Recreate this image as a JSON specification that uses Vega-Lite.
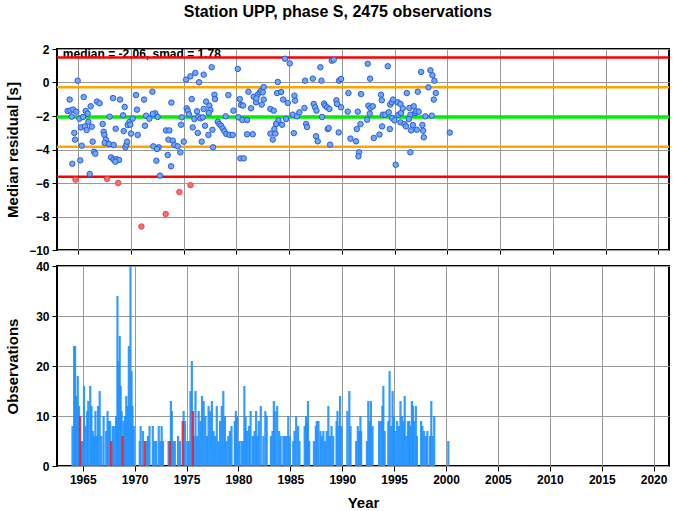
{
  "$schema": "https://vega.github.io/schema/vega-lite/v6.json",
  "padding": {"left": 4, "top": 4, "right": 4, "bottom": 0},
  "title": {"text": "Station UPP, phase S, 2475 observations", "anchor": "middle", "fontSize": 16, "fontWeight": "bold", "font": "Liberation Sans", "color": "#000", "offset": 22},
  "spacing": 16,
  "bounds": "flush",
  "config": {
    "font": "Liberation Sans",
    "view": {"stroke": "#000", "strokeWidth": 2},
    "axis": {"domain": false, "tickColor": "#000", "tickSize": 5, "tickWidth": 1, "gridColor": "#999", "gridWidth": 1, "labelFont": "Liberation Sans", "labelFontWeight": "bold", "labelFontSize": 12, "labelColor": "#000", "labelPadding": 3, "labelOverlap": false, "titleFont": "Liberation Sans", "titleFontSize": 15, "titleFontWeight": "bold", "titleColor": "#000"}
  },
  "datasets": {
    "points": [
      {"year":1964.96,"res":0.11,"status":"ok"},{"year":1964.20,"res":-1.02,"status":"ok"},{"year":1965.53,"res":-0.87,"status":"ok"},{"year":1964.01,"res":-1.70,"status":"ok"},{"year":1964.26,"res":-1.68,"status":"ok"},{"year":1964.52,"res":-1.62,"status":"ok"},{"year":1964.39,"res":-2.04,"status":"ok"},{"year":1964.83,"res":-1.74,"status":"ok"},{"year":1965.12,"res":-2.16,"status":"ok"},{"year":1965.46,"res":-2.06,"status":"ok"},{"year":1965.72,"res":-1.70,"status":"ok"},{"year":1965.91,"res":-1.86,"status":"ok"},{"year":1966.19,"res":-1.42,"status":"ok"},{"year":1965.97,"res":-2.34,"status":"ok"},{"year":1965.27,"res":-2.68,"status":"ok"},{"year":1965.65,"res":-2.62,"status":"ok"},{"year":1965.81,"res":-2.84,"status":"ok"},{"year":1966.29,"res":-2.64,"status":"ok"},{"year":1964.64,"res":-3.01,"status":"ok"},{"year":1964.71,"res":-3.41,"status":"ok"},{"year":1965.34,"res":-3.77,"status":"ok"},{"year":1966.38,"res":-3.53,"status":"ok"},{"year":1964.45,"res":-4.85,"status":"ok"},{"year":1965.21,"res":-4.65,"status":"ok"},{"year":1966.10,"res":-5.46,"status":"ok"},{"year":1966.51,"res":-4.13,"status":"ok"},{"year":1966.63,"res":-4.25,"status":"ok"},{"year":1966.79,"res":-1.14,"status":"ok"},{"year":1967.04,"res":-1.24,"status":"ok"},{"year":1967.33,"res":-2.48,"status":"ok"},{"year":1967.42,"res":-2.94,"status":"ok"},{"year":1967.49,"res":-3.13,"status":"ok"},{"year":1967.64,"res":-3.41,"status":"ok"},{"year":1967.52,"res":-3.61,"status":"ok"},{"year":1967.93,"res":-3.67,"status":"ok"},{"year":1968.37,"res":-3.73,"status":"ok"},{"year":1967.99,"res":-2.04,"status":"ok"},{"year":1968.31,"res":-0.93,"status":"ok"},{"year":1968.56,"res":-2.76,"status":"ok"},{"year":1968.97,"res":-1.02,"status":"ok"},{"year":1969.41,"res":-1.46,"status":"ok"},{"year":1969.26,"res":-1.96,"status":"ok"},{"year":1969.32,"res":-2.90,"status":"ok"},{"year":1969.48,"res":-3.87,"status":"ok"},{"year":1969.57,"res":-3.71,"status":"ok"},{"year":1969.64,"res":-3.53,"status":"ok"},{"year":1969.70,"res":-2.54,"status":"ok"},{"year":1969.86,"res":-2.36,"status":"ok"},{"year":1970.01,"res":-3.05,"status":"ok"},{"year":1970.17,"res":-2.16,"status":"ok"},{"year":1970.49,"res":-0.75,"status":"ok"},{"year":1970.58,"res":-1.62,"status":"ok"},{"year":1970.65,"res":-3.13,"status":"ok"},{"year":1971.25,"res":-1.02,"status":"ok"},{"year":1971.34,"res":-2.58,"status":"ok"},{"year":1971.44,"res":-1.98,"status":"ok"},{"year":1971.75,"res":-2.16,"status":"ok"},{"year":1972.04,"res":-0.55,"status":"ok"},{"year":1972.32,"res":-1.84,"status":"ok"},{"year":1972.13,"res":-3.81,"status":"ok"},{"year":1972.64,"res":-3.87,"status":"ok"},{"year":1972.48,"res":-3.97,"status":"ok"},{"year":1972.42,"res":-4.67,"status":"ok"},{"year":1972.76,"res":-5.56,"status":"ok"},{"year":1968.12,"res":-4.47,"status":"ok"},{"year":1968.37,"res":-4.61,"status":"ok"},{"year":1968.62,"res":-4.57,"status":"ok"},{"year":1968.88,"res":-4.63,"status":"ok"},{"year":1968.53,"res":-4.73,"status":"ok"},{"year":1972.07,"res":-1.88,"status":"ok"},{"year":1972.54,"res":-2.06,"status":"ok"},{"year":1969.95,"res":-2.52,"status":"ok"},
      {"year":1973.84,"res":-1.20,"status":"ok"},{"year":1973.33,"res":-2.86,"status":"ok"},{"year":1973.65,"res":-2.86,"status":"ok"},{"year":1973.56,"res":-3.41,"status":"ok"},{"year":1973.97,"res":-3.47,"status":"ok"},{"year":1974.12,"res":-3.73,"status":"ok"},{"year":1974.44,"res":-3.81,"status":"ok"},{"year":1973.49,"res":-4.33,"status":"ok"},{"year":1973.81,"res":-5.00,"status":"ok"},{"year":1974.69,"res":-4.17,"status":"ok"},{"year":1975.01,"res":-3.53,"status":"ok"},{"year":1974.76,"res":-2.52,"status":"ok"},{"year":1974.82,"res":-2.08,"status":"ok"},{"year":1975.23,"res":0.17,"status":"ok"},{"year":1975.64,"res":0.37,"status":"ok"},{"year":1976.11,"res":0.57,"status":"ok"},{"year":1976.46,"res":0.01,"status":"ok"},{"year":1976.90,"res":0.47,"status":"ok"},{"year":1977.66,"res":0.91,"status":"ok"},{"year":1975.29,"res":-1.54,"status":"ok"},{"year":1975.39,"res":-1.68,"status":"ok"},{"year":1975.51,"res":-1.90,"status":"ok"},{"year":1975.77,"res":-0.99,"status":"ok"},{"year":1976.02,"res":-2.18,"status":"ok"},{"year":1976.27,"res":-1.72,"status":"ok"},{"year":1976.40,"res":-2.04,"status":"ok"},{"year":1975.86,"res":-2.68,"status":"ok"},{"year":1976.34,"res":-3.01,"status":"ok"},{"year":1976.71,"res":-3.53,"status":"ok"},{"year":1976.59,"res":-2.14,"status":"ok"},{"year":1976.81,"res":-2.08,"status":"ok"},{"year":1976.90,"res":-1.58,"status":"ok"},{"year":1977.13,"res":-1.14,"status":"ok"},{"year":1977.44,"res":-1.38,"status":"ok"},{"year":1977.54,"res":-1.64,"status":"ok"},{"year":1977.38,"res":-1.82,"status":"ok"},{"year":1977.03,"res":-2.58,"status":"ok"},{"year":1977.35,"res":-3.13,"status":"ok"},{"year":1977.73,"res":-2.82,"status":"ok"},{"year":1977.79,"res":-3.87,"status":"ok"},{"year":1977.92,"res":-0.73,"status":"ok"},{"year":1977.98,"res":-0.99,"status":"ok"},{"year":1978.23,"res":-2.34,"status":"ok"},{"year":1978.39,"res":-2.48,"status":"ok"},{"year":1978.55,"res":-2.58,"status":"ok"},{"year":1978.71,"res":-2.74,"status":"ok"},{"year":1978.86,"res":-2.90,"status":"ok"},{"year":1979.05,"res":-3.07,"status":"ok"},{"year":1979.34,"res":-3.13,"status":"ok"},{"year":1979.65,"res":-3.13,"status":"ok"},{"year":1978.99,"res":-2.02,"status":"ok"},{"year":1979.24,"res":-0.75,"status":"ok"},{"year":1979.72,"res":-1.68,"status":"ok"},{"year":1980.13,"res":0.81,"status":"ok"},{"year":1980.32,"res":-0.99,"status":"ok"},{"year":1980.44,"res":-1.34,"status":"ok"},{"year":1980.63,"res":-1.38,"status":"ok"},{"year":1980.19,"res":-2.08,"status":"ok"},{"year":1980.57,"res":-2.24,"status":"ok"},{"year":1981.01,"res":-2.24,"status":"ok"},{"year":1980.38,"res":-4.53,"status":"ok"},{"year":1980.70,"res":-4.53,"status":"ok"},{"year":1981.01,"res":-3.09,"status":"ok"},{"year":1981.55,"res":-3.09,"status":"ok"},{"year":1981.14,"res":-0.55,"status":"ok"},{"year":1981.39,"res":-1.54,"status":"ok"},{"year":1981.64,"res":-0.85,"status":"ok"},{"year":1981.86,"res":-1.18,"status":"ok"},{"year":1982.02,"res":-0.73,"status":"ok"},{"year":1982.21,"res":-0.59,"status":"ok"},{"year":1981.90,"res":-0.95,"status":"ok"},{"year":1982.34,"res":-0.49,"status":"ok"},
      {"year":1982.59,"res":-0.27,"status":"ok"},{"year":1982.50,"res":-0.59,"status":"ok"},{"year":1982.59,"res":-1.02,"status":"ok"},{"year":1982.40,"res":-1.32,"status":"ok"},{"year":1983.22,"res":-1.58,"status":"ok"},{"year":1983.54,"res":-1.68,"status":"ok"},{"year":1983.92,"res":0.03,"status":"ok"},{"year":1983.86,"res":-0.63,"status":"ok"},{"year":1984.24,"res":-0.57,"status":"ok"},{"year":1984.43,"res":-1.02,"status":"ok"},{"year":1984.87,"res":-1.22,"status":"ok"},{"year":1984.61,"res":1.42,"status":"ok"},{"year":1985.06,"res":1.14,"status":"ok"},{"year":1985.34,"res":-1.92,"status":"ok"},{"year":1985.75,"res":-2.02,"status":"ok"},{"year":1985.97,"res":-1.78,"status":"ok"},{"year":1986.45,"res":-1.52,"status":"ok"},{"year":1985.50,"res":-0.79,"status":"ok"},{"year":1985.56,"res":-1.08,"status":"ok"},{"year":1983.98,"res":-2.26,"status":"ok"},{"year":1983.76,"res":-2.48,"status":"ok"},{"year":1983.60,"res":-2.78,"status":"ok"},{"year":1983.22,"res":-3.05,"status":"ok"},{"year":1983.45,"res":-3.41,"status":"ok"},{"year":1983.70,"res":-3.05,"status":"ok"},{"year":1984.33,"res":-2.52,"status":"ok"},{"year":1984.71,"res":-2.18,"status":"ok"},{"year":1985.44,"res":-3.02,"status":"ok"},{"year":1986.61,"res":-2.48,"status":"ok"},{"year":1986.70,"res":-2.66,"status":"ok"},{"year":1986.51,"res":0.11,"status":"ok"},{"year":1987.24,"res":0.23,"status":"ok"},{"year":1987.96,"res":0.91,"status":"ok"},{"year":1988.06,"res":0.11,"status":"ok"},{"year":1989.04,"res":1.30,"status":"ok"},{"year":1989.23,"res":1.36,"status":"ok"},{"year":1989.73,"res":0.11,"status":"ok"},{"year":1989.92,"res":0.21,"status":"ok"},{"year":1987.33,"res":-1.28,"status":"ok"},{"year":1987.46,"res":-1.48,"status":"ok"},{"year":1987.59,"res":-1.68,"status":"ok"},{"year":1988.12,"res":-2.06,"status":"ok"},{"year":1987.55,"res":-3.21,"status":"ok"},{"year":1987.71,"res":-3.51,"status":"ok"},{"year":1988.31,"res":-1.26,"status":"ok"},{"year":1988.41,"res":-1.38,"status":"ok"},{"year":1988.60,"res":-1.48,"status":"ok"},{"year":1988.82,"res":-1.58,"status":"ok"},{"year":1988.66,"res":-2.78,"status":"ok"},{"year":1988.75,"res":-2.72,"status":"ok"},{"year":1988.88,"res":-3.71,"status":"ok"},{"year":1989.48,"res":-1.06,"status":"ok"},{"year":1989.54,"res":-1.28,"status":"ok"},{"year":1989.70,"res":-2.98,"status":"ok"},{"year":1989.92,"res":-1.48,"status":"ok"},{"year":1990.62,"res":-0.63,"status":"ok"},{"year":1990.55,"res":-1.74,"status":"ok"},{"year":1990.81,"res":-3.35,"status":"ok"},{"year":1991.34,"res":-3.51,"status":"ok"},{"year":1991.50,"res":-1.74,"status":"ok"},{"year":1991.76,"res":-2.48,"status":"ok"},{"year":1991.41,"res":-2.78,"status":"ok"},{"year":1991.63,"res":-4.17,"status":"ok"},{"year":1991.57,"res":-4.41,"status":"ok"},{"year":1991.82,"res":-0.69,"status":"ok"},{"year":1992.45,"res":1.12,"status":"ok"},{"year":1992.67,"res":0.23,"status":"ok"},{"year":1992.51,"res":-1.38,"status":"ok"},{"year":1992.70,"res":-1.52,"status":"ok"},{"year":1992.93,"res":-1.42,"status":"ok"},{"year":1992.64,"res":-1.86,"status":"ok"},{"year":1992.39,"res":-2.22,"status":"ok"},{"year":1993.02,"res":-3.31,"status":"ok"},{"year":1993.56,"res":-3.11,"status":"ok"},{"year":1993.71,"res":-0.73,"status":"ok"},{"year":1993.78,"res":-1.06,"status":"ok"},{"year":1993.87,"res":-1.92,"status":"ok"},{"year":1994.10,"res":-1.92,"status":"ok"},{"year":1993.81,"res":-2.62,"status":"ok"},{"year":1994.35,"res":0.97,"status":"ok"},{"year":1994.54,"res":-2.78,"status":"ok"},{"year":1994.44,"res":-1.78,"status":"ok"},{"year":1994.57,"res":-1.32,"status":"ok"},{"year":1994.73,"res":-1.18,"status":"ok"},{"year":1994.85,"res":-1.02,"status":"ok"},{"year":1994.76,"res":-2.12,"status":"ok"},{"year":1994.98,"res":-2.26,"status":"ok"},{"year":1995.10,"res":-4.91,"status":"ok"},{"year":1995.29,"res":-1.18,"status":"ok"},{"year":1995.55,"res":-1.28,"status":"ok"},{"year":1995.36,"res":-1.92,"status":"ok"},{"year":1995.61,"res":-1.82,"status":"ok"},{"year":1995.77,"res":-1.54,"status":"ok"},{"year":1995.55,"res":-2.38,"status":"ok"},{"year":1995.93,"res":-2.48,"status":"ok"},{"year":1996.15,"res":-0.63,"status":"ok"},{"year":1996.08,"res":-2.62,"status":"ok"},{"year":1996.40,"res":-1.52,"status":"ok"},{"year":1996.49,"res":-1.92,"status":"ok"},{"year":1996.34,"res":-2.18,"status":"ok"},{"year":1996.81,"res":-1.42,"status":"ok"},{"year":1996.94,"res":-1.82,"status":"ok"},{"year":1997.03,"res":-1.72,"status":"ok"},{"year":1997.28,"res":-1.74,"status":"ok"},{"year":1996.56,"res":-2.86,"status":"ok"},{"year":1996.72,"res":-2.54,"status":"ok"},{"year":1997.10,"res":-2.82,"status":"ok"},{"year":1997.63,"res":-2.54,"status":"ok"},{"year":1997.76,"res":-3.27,"status":"ok"},{"year":1997.70,"res":-2.88,"status":"ok"},{"year":1996.49,"res":-4.17,"status":"ok"},{"year":1997.19,"res":-0.55,"status":"ok"},{"year":1997.51,"res":0.63,"status":"ok"},{"year":1997.92,"res":-2.02,"status":"ok"},{"year":1998.20,"res":-0.29,"status":"ok"},{"year":1998.39,"res":0.73,"status":"ok"},{"year":1998.58,"res":0.43,"status":"ok"},{"year":1998.77,"res":0.11,"status":"ok"},{"year":1998.90,"res":-0.63,"status":"ok"},{"year":1998.71,"res":-1.02,"status":"ok"},{"year":1998.52,"res":-1.98,"status":"ok"},{"year":2000.22,"res":-2.99,"status":"ok"},
      {"year":1964.75,"res":-5.80,"status":"outlier"},{"year":1967.75,"res":-5.76,"status":"outlier"},{"year":1968.80,"res":-6.00,"status":"outlier"},{"year":1971.00,"res":-8.60,"status":"outlier"},{"year":1973.30,"res":-7.85,"status":"outlier"},{"year":1974.60,"res":-6.54,"status":"outlier"},{"year":1975.65,"res":-6.13,"status":"outlier"}
    ],
    "bars": [
      {"year":1964.01,"count":8,"status":"ok"},{"year":1964.17,"count":24,"status":"ok"},{"year":1964.26,"count":24,"status":"ok"},{"year":1964.39,"count":14,"status":"ok"},{"year":1964.52,"count":18,"status":"ok"},{"year":1964.64,"count":12,"status":"ok"},{"year":1964.83,"count":5,"status":"ok"},{"year":1964.96,"count":5,"status":"ok"},{"year":1965.12,"count":16,"status":"ok"},{"year":1965.27,"count":8,"status":"ok"},{"year":1965.43,"count":11,"status":"ok"},{"year":1965.53,"count":13,"status":"ok"},{"year":1965.72,"count":16,"status":"ok"},{"year":1965.84,"count":12,"status":"ok"},{"year":1965.97,"count":7,"status":"ok"},{"year":1966.10,"count":6,"status":"ok"},{"year":1966.22,"count":11,"status":"ok"},{"year":1966.35,"count":6,"status":"ok"},{"year":1966.47,"count":12,"status":"ok"},{"year":1966.63,"count":15,"status":"ok"},{"year":1966.79,"count":6,"status":"ok"},{"year":1967.01,"count":10,"status":"ok"},{"year":1967.26,"count":7,"status":"ok"},{"year":1967.39,"count":11,"status":"ok"},{"year":1967.49,"count":9,"status":"ok"},{"year":1967.64,"count":9,"status":"ok"},{"year":1967.90,"count":8,"status":"ok"},{"year":1968.05,"count":8,"status":"ok"},{"year":1968.21,"count":10,"status":"ok"},{"year":1968.34,"count":34,"status":"ok"},{"year":1968.43,"count":21,"status":"ok"},{"year":1968.56,"count":26,"status":"ok"},{"year":1968.65,"count":16,"status":"ok"},{"year":1968.75,"count":11,"status":"ok"},{"year":1968.94,"count":9,"status":"ok"},{"year":1969.07,"count":10,"status":"ok"},{"year":1969.19,"count":14,"status":"ok"},{"year":1969.32,"count":12,"status":"ok"},{"year":1969.44,"count":24,"status":"ok"},{"year":1969.60,"count":40,"status":"ok"},{"year":1969.70,"count":19,"status":"ok"},{"year":1969.79,"count":12,"status":"ok"},{"year":1969.92,"count":8,"status":"ok"},{"year":1970.49,"count":5,"status":"ok"},{"year":1970.58,"count":8,"status":"ok"},{"year":1970.80,"count":7,"status":"ok"},{"year":1971.15,"count":5,"status":"ok"},{"year":1971.28,"count":6,"status":"ok"},{"year":1971.43,"count":8,"status":"ok"},{"year":1971.75,"count":8,"status":"ok"},{"year":1971.91,"count":5,"status":"ok"},{"year":1972.07,"count":5,"status":"ok"},{"year":1972.32,"count":8,"status":"ok"},{"year":1972.48,"count":5,"status":"ok"},{"year":1972.60,"count":8,"status":"ok"},{"year":1972.73,"count":5,"status":"ok"},{"year":1973.27,"count":5,"status":"ok"},{"year":1973.49,"count":13,"status":"ok"},{"year":1973.58,"count":11,"status":"ok"},{"year":1973.71,"count":5,"status":"ok"},{"year":1973.87,"count":5,"status":"ok"},{"year":1974.18,"count":6,"status":"ok"},{"year":1974.37,"count":5,"status":"ok"},{"year":1974.72,"count":11,"status":"ok"},{"year":1974.85,"count":9,"status":"ok"},{"year":1975.07,"count":5,"status":"ok"},{"year":1975.23,"count":5,"status":"ok"},{"year":1975.38,"count":15,"status":"ok"},{"year":1975.51,"count":21,"status":"ok"},{"year":1975.70,"count":6,"status":"ok"},{"year":1975.86,"count":15,"status":"ok"},{"year":1976.02,"count":6,"status":"ok"},{"year":1976.17,"count":11,"status":"ok"},{"year":1976.33,"count":9,"status":"ok"},{"year":1976.49,"count":14,"status":"ok"},{"year":1976.65,"count":13,"status":"ok"},{"year":1976.81,"count":10,"status":"ok"},{"year":1976.97,"count":6,"status":"ok"},{"year":1977.12,"count":12,"status":"ok"},{"year":1977.28,"count":11,"status":"ok"},{"year":1977.44,"count":13,"status":"ok"},{"year":1977.60,"count":7,"status":"ok"},{"year":1977.75,"count":6,"status":"ok"},{"year":1977.91,"count":12,"status":"ok"},{"year":1978.07,"count":5,"status":"ok"},{"year":1978.23,"count":9,"status":"ok"},{"year":1978.39,"count":12,"status":"ok"},{"year":1978.54,"count":15,"status":"ok"},{"year":1978.70,"count":10,"status":"ok"},{"year":1978.86,"count":5,"status":"ok"},{"year":1979.02,"count":6,"status":"ok"},{"year":1979.18,"count":7,"status":"ok"},{"year":1979.33,"count":8,"status":"ok"},
      {"year":1979.65,"count":9,"status":"ok"},{"year":1979.75,"count":11,"status":"ok"},{"year":1979.87,"count":10,"status":"ok"},{"year":1980.06,"count":5,"status":"ok"},{"year":1980.28,"count":5,"status":"ok"},{"year":1980.44,"count":5,"status":"ok"},{"year":1980.57,"count":16,"status":"ok"},{"year":1980.69,"count":10,"status":"ok"},{"year":1980.82,"count":7,"status":"ok"},{"year":1981.01,"count":8,"status":"ok"},{"year":1981.17,"count":11,"status":"ok"},{"year":1981.39,"count":6,"status":"ok"},{"year":1981.55,"count":7,"status":"ok"},{"year":1981.70,"count":11,"status":"ok"},{"year":1981.83,"count":6,"status":"ok"},{"year":1981.96,"count":9,"status":"ok"},{"year":1982.15,"count":12,"status":"ok"},{"year":1982.40,"count":6,"status":"ok"},{"year":1982.59,"count":11,"status":"ok"},{"year":1982.72,"count":10,"status":"ok"},{"year":1983.13,"count":6,"status":"ok"},{"year":1983.28,"count":7,"status":"ok"},{"year":1983.41,"count":13,"status":"ok"},{"year":1983.54,"count":11,"status":"ok"},{"year":1983.73,"count":12,"status":"ok"},{"year":1983.92,"count":7,"status":"ok"},{"year":1984.07,"count":6,"status":"ok"},{"year":1984.33,"count":6,"status":"ok"},{"year":1984.49,"count":6,"status":"ok"},{"year":1984.64,"count":6,"status":"ok"},{"year":1984.80,"count":10,"status":"ok"},{"year":1984.93,"count":6,"status":"ok"},{"year":1985.28,"count":5,"status":"ok"},{"year":1985.40,"count":7,"status":"ok"},{"year":1985.56,"count":10,"status":"ok"},{"year":1985.75,"count":8,"status":"ok"},{"year":1985.88,"count":5,"status":"ok"},{"year":1986.38,"count":8,"status":"ok"},{"year":1986.51,"count":10,"status":"ok"},{"year":1986.60,"count":9,"status":"ok"},{"year":1986.70,"count":13,"status":"ok"},{"year":1986.82,"count":5,"status":"ok"},{"year":1987.27,"count":5,"status":"ok"},{"year":1987.46,"count":8,"status":"ok"},{"year":1987.55,"count":9,"status":"ok"},{"year":1987.71,"count":9,"status":"ok"},{"year":1987.90,"count":7,"status":"ok"},{"year":1988.02,"count":6,"status":"ok"},{"year":1988.18,"count":7,"status":"ok"},{"year":1988.34,"count":5,"status":"ok"},{"year":1988.50,"count":7,"status":"ok"},{"year":1988.66,"count":12,"status":"ok"},{"year":1988.81,"count":6,"status":"ok"},{"year":1988.97,"count":8,"status":"ok"},{"year":1989.13,"count":6,"status":"ok"},{"year":1989.45,"count":9,"status":"ok"},{"year":1989.54,"count":11,"status":"ok"},{"year":1989.70,"count":8,"status":"ok"},{"year":1989.79,"count":14,"status":"ok"},{"year":1989.92,"count":8,"status":"ok"},{"year":1990.49,"count":11,"status":"ok"},{"year":1990.68,"count":15,"status":"ok"},{"year":1990.80,"count":8,"status":"ok"},{"year":1991.34,"count":5,"status":"ok"},{"year":1991.50,"count":8,"status":"ok"},{"year":1991.63,"count":7,"status":"ok"},{"year":1991.75,"count":10,"status":"ok"},{"year":1991.82,"count":7,"status":"ok"},{"year":1992.38,"count":5,"status":"ok"},{"year":1992.51,"count":13,"status":"ok"},{"year":1992.64,"count":9,"status":"ok"},{"year":1992.76,"count":13,"status":"ok"},{"year":1992.92,"count":8,"status":"ok"},{"year":1993.55,"count":9,"status":"ok"},{"year":1993.71,"count":9,"status":"ok"},{"year":1993.87,"count":12,"status":"ok"},{"year":1993.96,"count":16,"status":"ok"},{"year":1994.09,"count":7,"status":"ok"},{"year":1994.44,"count":9,"status":"ok"},{"year":1994.56,"count":19,"status":"ok"},{"year":1994.72,"count":8,"status":"ok"},{"year":1994.85,"count":15,"status":"ok"},{"year":1994.98,"count":10,"status":"ok"},{"year":1995.13,"count":7,"status":"ok"},{"year":1995.29,"count":9,"status":"ok"},{"year":1995.45,"count":8,"status":"ok"},{"year":1995.61,"count":13,"status":"ok"},{"year":1995.76,"count":10,"status":"ok"},{"year":1995.92,"count":9,"status":"ok"},{"year":1996.02,"count":14,"status":"ok"},{"year":1996.18,"count":6,"status":"ok"},{"year":1996.33,"count":9,"status":"ok"},{"year":1996.46,"count":9,"status":"ok"},{"year":1996.55,"count":8,"status":"ok"},{"year":1996.71,"count":13,"status":"ok"},{"year":1996.81,"count":12,"status":"ok"},{"year":1996.93,"count":9,"status":"ok"},{"year":1997.09,"count":12,"status":"ok"},{"year":1997.19,"count":6,"status":"ok"},{"year":1997.60,"count":9,"status":"ok"},{"year":1997.72,"count":8,"status":"ok"},{"year":1997.88,"count":7,"status":"ok"},{"year":1998.07,"count":6,"status":"ok"},{"year":1998.20,"count":7,"status":"ok"},{"year":1998.45,"count":6,"status":"ok"},{"year":1998.58,"count":13,"status":"ok"},{"year":1998.70,"count":6,"status":"ok"},{"year":1998.86,"count":10,"status":"ok"},{"year":2000.22,"count":5,"status":"ok"},
      {"year":1964.74,"count":10,"status":"outlier"},{"year":1967.74,"count":5,"status":"outlier"},{"year":1968.84,"count":6,"status":"outlier"},{"year":1970.99,"count":5,"status":"outlier"},{"year":1973.39,"count":5,"status":"outlier"},{"year":1974.63,"count":9,"status":"outlier"},{"year":1975.61,"count":11,"status":"outlier"}
    ]
  },
  "vconcat": [
    {
      "width": 612,
      "height": 201,
      "encoding": {
        "x": {"type": "quantitative", "scale": {"domain": [1963, 2021], "nice": false, "zero": false},
              "axis": {"values": [1965,1970,1975,1980,1985,1990,1995,2000,2005,2010,2015,2020], "labels": false, "title": null, "grid": true, "ticks": true, "tickSize": 4}},
        "y": {"type": "quantitative", "scale": {"domain": [-10, 2], "nice": false, "zero": false},
              "axis": {"values": [-10,-8,-6,-4,-2,0,2], "title": "Median residual [s]", "titleX": -37, "titleY": 100.5, "grid": true}}
      },
      "layer": [
        {
          "data": {"values": [{}]},
          "mark": {"type": "text", "align": "left", "baseline": "middle", "fontSize": 12, "fontWeight": "bold", "font": "Liberation Sans", "color": "#000", "dy": -2},
          "encoding": {
            "x": {"datum": 1963.55},
            "y": {"datum": 1.6},
            "text": {"value": "median = -2.06, smad = 1.78"}
          }
        },
        {"data": {"values": [{}]}, "mark": {"type": "rule", "color": "#FFA500", "strokeWidth": 2.5}, "encoding": {"y": {"datum": -0.28}}},
        {"data": {"values": [{}]}, "mark": {"type": "rule", "color": "#FFA500", "strokeWidth": 2.5}, "encoding": {"y": {"datum": -3.84}}},
        {"data": {"values": [{}]}, "mark": {"type": "rule", "color": "#00EE00", "strokeWidth": 3.5}, "encoding": {"y": {"datum": -2.06}}},
        {"data": {"values": [{}]}, "mark": {"type": "rule", "color": "#FF0000", "strokeWidth": 2.5}, "encoding": {"y": {"datum": 1.5}}},
        {"data": {"values": [{}]}, "mark": {"type": "rule", "color": "#FF0000", "strokeWidth": 2.5}, "encoding": {"y": {"datum": -5.62}}},
        {
          "data": {"name": "points"},
          "mark": {"type": "circle", "size": 30, "strokeWidth": 1, "opacity": 1},
          "encoding": {
            "x": {"field": "year"},
            "y": {"field": "res"},
            "fill": {"field": "status", "type": "nominal", "scale": {"domain": ["ok", "outlier"], "range": ["#6FA8F5", "#FF6B6B"]}, "legend": null},
            "stroke": {"field": "status", "type": "nominal", "scale": {"domain": ["ok", "outlier"], "range": ["#2A5BE0", "#E84848"]}, "legend": null}
          }
        }
      ]
    },
    {
      "width": 612,
      "height": 200,
      "data": {"name": "bars"},
      "mark": {"type": "bar", "width": 2.2, "opacity": 0.9},
      "encoding": {
        "x": {"field": "year", "type": "quantitative", "scale": {"domain": [1963, 2021], "nice": false, "zero": false},
              "axis": {"values": [1965,1970,1975,1980,1985,1990,1995,2000,2005,2010,2015,2020], "format": "d", "title": "Year", "grid": true, "titlePadding": 10}},
        "y": {"field": "count", "type": "quantitative", "scale": {"domain": [0, 40], "nice": false},
              "axis": {"values": [0,10,20,30,40], "title": "Observations", "titleX": -37, "titleY": 100, "grid": true}},
        "color": {"field": "status", "type": "nominal", "scale": {"domain": ["ok", "outlier"], "range": ["#1E90FF", "#FF1A1A"]}, "legend": null}
      }
    }
  ]
}
